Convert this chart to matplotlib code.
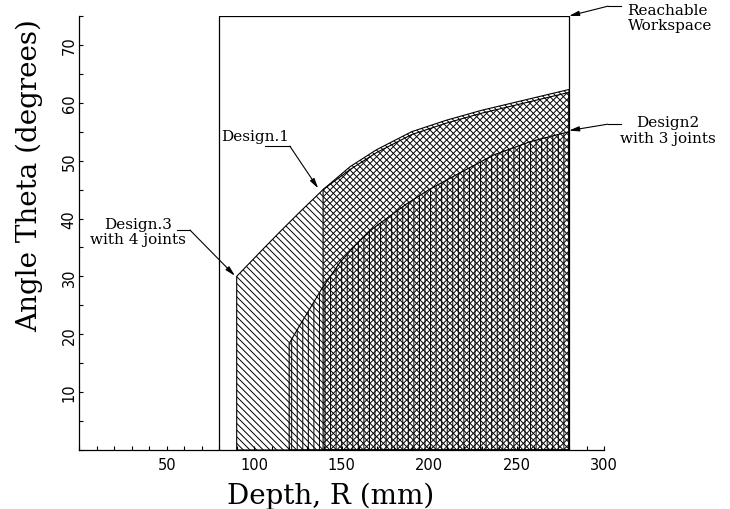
import matplotlib
matplotlib.use("Agg")
from matplotlib import pyplot as plt
from matplotlib.ticker import MultipleLocator

plt.rcParams['hatch.linewidth'] = 0.7
plt.rcParams['hatch.color'] = 'black'

# reachable workspace box (depth range, max angle)
ws_R = [80, 80, 280, 280]
ws_theta = [0, 75, 75, 0]

# design 3 (4 joints)
d3_R = [90, 90, 105, 114.7, 126, 139.4, 155, 170, 190, 210, 230, 255, 280, 280]
d3_theta = [0, 30, 34.7, 37.7, 41.1, 45.0, 49.0, 51.9, 55.0, 57.0, 58.7, 60.5, 62.3, 0]

# design 1
d1_R = [139.4, 139.4, 155, 170, 190, 210, 230, 255, 280, 280]
d1_theta = [0, 45.0, 48.5, 51.4, 54.5, 56.5, 58.2, 60.0, 61.8, 0]

# design 2 (3 joints)
d2_R = [120, 120, 126, 131.8, 138.5, 149, 158.5, 168, 187, 200, 214, 237, 258, 280, 280]
d2_theta = [0, 18.4, 21.5, 24.4, 27.8, 32.4, 35.6, 38.3, 42.5, 45.0, 47.3, 51.0, 53.3, 55.0, 0]

fig = plt.figure(figsize=(7.3, 5.1), dpi=100)
ax = fig.add_axes([0.1086, 0.1157, 0.7188, 0.851])

ax.fill(d3_R, d3_theta, facecolor='none', edgecolor='black', lw=0.8, hatch='\\\\\\\\\\')
ax.fill(d1_R, d1_theta, facecolor='none', edgecolor='black', lw=0.8, hatch='/////')
ax.fill(d2_R, d2_theta, facecolor='none', edgecolor='black', lw=0.8, hatch='|||')
ax.plot(ws_R, ws_theta, color='black', lw=0.9)

ax.set_xlim(0, 300)
ax.set_ylim(0, 75)
ax.spines['top'].set_visible(False)
ax.spines['right'].set_visible(False)
for s in ['left', 'bottom']:
    ax.spines[s].set_linewidth(0.9)

ax.xaxis.set_major_locator(MultipleLocator(50))
ax.xaxis.set_minor_locator(MultipleLocator(10))
ax.yaxis.set_major_locator(MultipleLocator(10))
ax.yaxis.set_minor_locator(MultipleLocator(5))
ax.tick_params(which='both', direction='in', length=3, width=0.8)
ax.tick_params(axis='x', pad=5, labelsize=10.5)
ax.tick_params(axis='y', pad=2, labelsize=10.5)
ax.set_xticks([50, 100, 150, 200, 250, 300])
ax.set_yticks([10, 20, 30, 40, 50, 60, 70])
for t in ax.get_yticklabels():
    t.set_rotation(90)
    t.set_va('center')

ax.text(0.479, -0.104, 'Depth, R (mm)', transform=ax.transAxes, ha='center', va='center',
        family='DejaVu Serif', fontsize=20)
ax.text(-0.095, 0.634, 'Angle Theta (degrees)', transform=ax.transAxes, ha='center', va='center',
        rotation=90, family='DejaVu Serif', fontsize=20)

notes = [
    ('Reachable\nWorkspace', (313.5, 74.8), 'left', (310.0, 302.3, 76.7), (280, 75)),
    ('Design2\nwith 3 joints', (336.4, 55.3), 'center', (310.0, 302.1, 56.3), (280, 55.2)),
    ('Design.1', (100.4, 54.3), 'center', (106.1, 120.4, 52.5), (136.6, 45.2)),
    ('Design.3\nwith 4 joints', (33.5, 37.8), 'center', (55.7, 63.3, 38.0), (89, 30.1)),
]
for txt, pos, ha, seg, tip in notes:
    ax.text(pos[0], pos[1], txt, ha=ha, va='center', multialignment=ha, linespacing=1.1,
            family='DejaVu Serif', fontsize=11, clip_on=False)
    ax.plot([seg[0], seg[1]], [seg[2], seg[2]], color='black', lw=0.8, clip_on=False)
    ax.annotate('', xy=tip, xytext=(seg[1], seg[2]), annotation_clip=False,
                arrowprops=dict(arrowstyle='-|>,head_length=0.6,head_width=0.15',
                                color='black', lw=0.8, shrinkA=0, shrinkB=0))

fig.savefig('out.png', dpi=100)
